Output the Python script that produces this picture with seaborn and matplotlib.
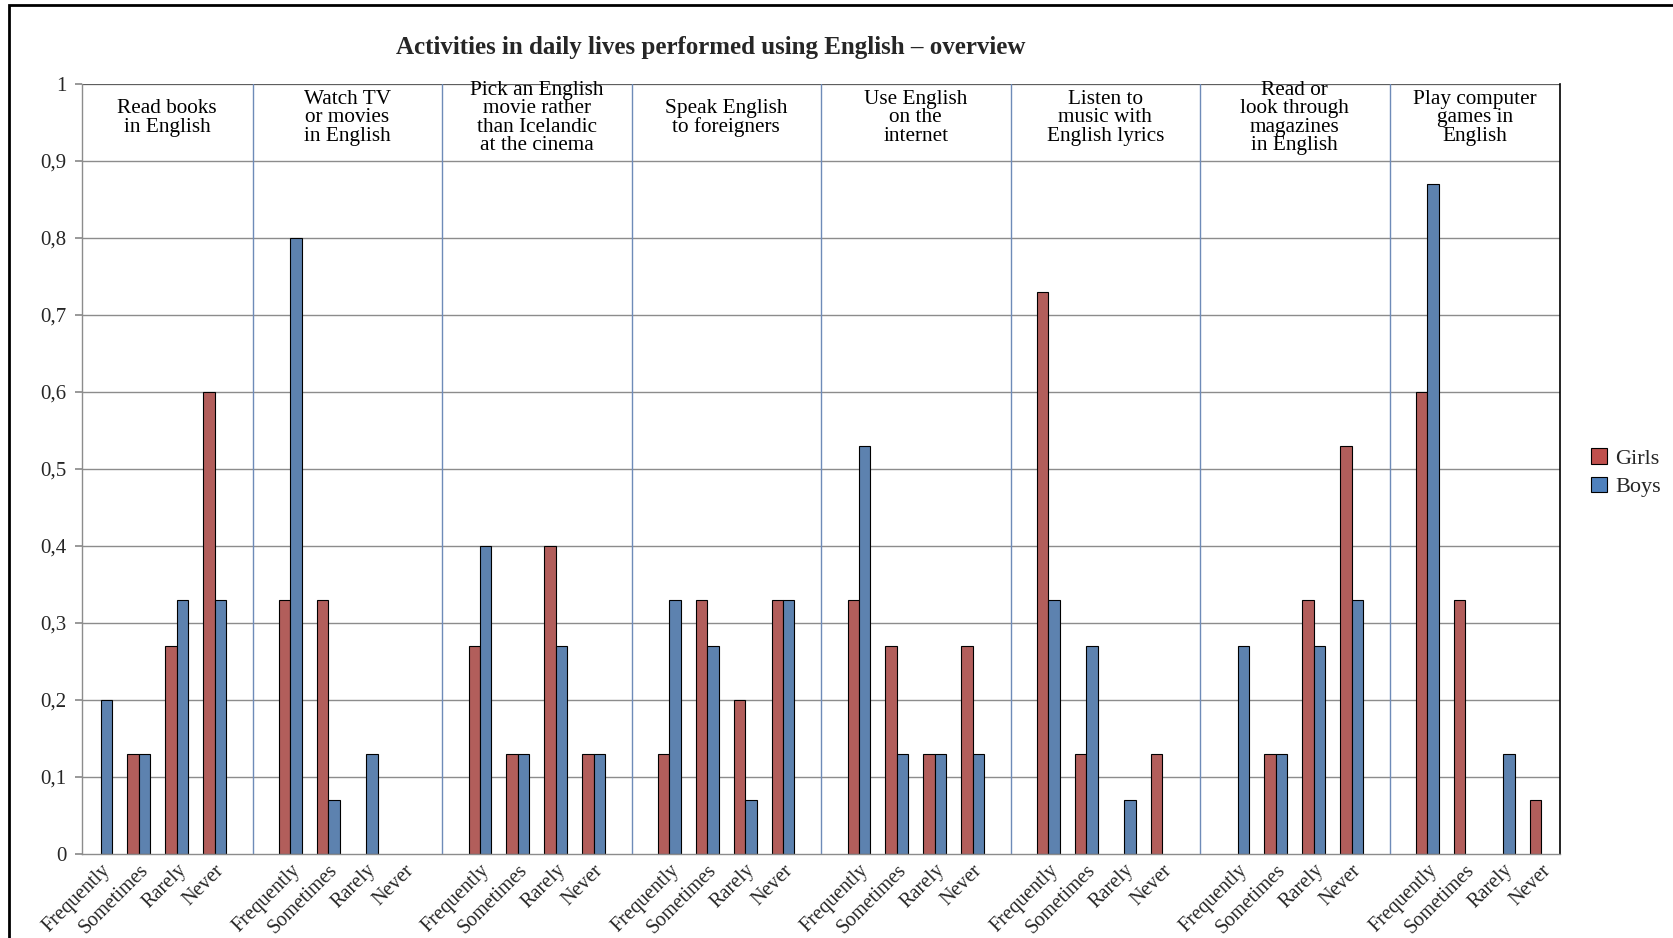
import numpy as np
import pandas as pd
import matplotlib.pyplot as plt
import matplotlib.patches as mpatches
import seaborn as sns

# activity groups (header text) and answer levels
groups = [
	"Read books\nin English",
	"Watch TV\nor movies\nin English",
	"Pick an English\nmovie rather\nthan Icelandic\nat the cinema",
	"Speak English\nto foreigners",
	"Use English\non the\ninternet",
	"Listen to\nmusic with\nEnglish lyrics",
	"Read or\nlook through\nmagazines\nin English",
	"Play computer\ngames in\nEnglish",
]
levels = ["Frequently", "Sometimes", "Rarely", "Never"]

girls = [
	[0.00, 0.13, 0.27, 0.60],
	[0.33, 0.33, 0.00, 0.00],
	[0.27, 0.13, 0.40, 0.13],
	[0.13, 0.33, 0.20, 0.33],
	[0.33, 0.27, 0.13, 0.27],
	[0.73, 0.13, 0.00, 0.13],
	[0.00, 0.13, 0.33, 0.53],
	[0.60, 0.33, 0.00, 0.07],
]
boys = [
	[0.20, 0.13, 0.33, 0.33],
	[0.80, 0.07, 0.13, 0.00],
	[0.40, 0.13, 0.27, 0.13],
	[0.33, 0.27, 0.07, 0.33],
	[0.53, 0.13, 0.13, 0.13],
	[0.33, 0.27, 0.07, 0.00],
	[0.27, 0.13, 0.27, 0.33],
	[0.87, 0.00, 0.13, 0.00],
]
series = ["Girls", "Boys"]
colors = {"Girls": "#C0504D", "Boys": "#4F81BD"}

# build category slots: 4 levels per group plus an empty separator slot
slots, slot_labels = [], []
for g in range(len(groups)):
	for lv in levels:
		slots.append(f"{g}_{lv}")
		slot_labels.append(lv)
	if g < len(groups) - 1:
		slots.append(f"{g}_sep")
		slot_labels.append("")

rows = []
for g in range(len(groups)):
	for k, lv in enumerate(levels):
		rows.append({"slot": f"{g}_{lv}", "series": "Girls", "value": girls[g][k]})
		rows.append({"slot": f"{g}_{lv}", "series": "Boys", "value": boys[g][k]})
df = pd.DataFrame(rows)
df_plot = df[df["value"] > 0]

sns.set_theme(style="white")
plt.rcParams["font.family"] = ["Liberation Serif", "DejaVu Serif"]

fig = plt.figure(figsize=(16.73, 9.38), dpi=100)
ax = fig.add_axes([0.049, 0.0896, 0.8835, 0.8208])

sns.barplot(
	data=df_plot, x="slot", y="value", hue="series",
	order=slots, hue_order=series, palette=colors,
	width=0.6, dodge=True, edgecolor="black", linewidth=0.8,
	legend=False, ax=ax,
)

n = len(slots)
ax.set_xlim(-0.5, n - 0.5)
ax.set_ylim(0, 1)
ax.set_xlabel("")
ax.set_ylabel("")

# gridlines
yt = np.round(np.arange(0, 1.01, 0.1), 1)
for y in yt[1:]:
	ax.axhline(y, color="#8C8C8C", lw=1, zorder=0.5)
ax.axhline(1, color="#555555", lw=1.2, zorder=0.5)

# group separators and headers
sep_pos = [i for i, s in enumerate(slots) if s.endswith("_sep")]
for x in sep_pos:
	ax.axvline(x, color="#6E8BB8", lw=1, zorder=0.6)
bounds = [-0.5] + sep_pos + [n - 0.5]
for g, txt in enumerate(groups):
	cx = (bounds[g] + bounds[g + 1]) / 2
	ax.text(cx, 0.956, txt, ha="center", va="center", fontsize=15.3,
		linespacing=0.97, color="black")

ax.set_yticks(yt)
ax.set_yticklabels(["0" if v == 0 else ("1" if v == 1 else f"{v:.1f}".replace(".", ",")) for v in yt],
	fontsize=15)
ax.set_xticks(range(n))
ax.set_xticklabels(slot_labels, rotation=45, ha="right", rotation_mode="anchor", fontsize=14.5)
ax.set_xticks(np.arange(-0.5, n, 1), minor=True)
ax.tick_params(axis="x", which="major", length=0, pad=5)
ax.tick_params(axis="x", which="minor", length=5, color="#8C8C8C", direction="out")
ax.tick_params(axis="y", length=5, color="#8C8C8C", direction="out", left=True, pad=6)

for side in ["left", "bottom"]:
	ax.spines[side].set_color("#8C8C8C")
	ax.spines[side].set_linewidth(1)
ax.spines["top"].set_visible(False)
ax.spines["right"].set_color("black")
ax.spines["right"].set_linewidth(1.2)

fig.text(0.425, 0.949, "Activities in daily lives performed using English \u2013 overview",
	ha="center", va="center", fontsize=18, fontweight="bold")

handles = [mpatches.Patch(facecolor=colors[s], edgecolor="black", lw=0.8, label=s) for s in series]
fig.legend(handles=handles, loc="center left", bbox_to_anchor=(0.939, 0.496),
	frameon=False, fontsize=16, handlelength=0.7, handleheight=0.7,
	handletextpad=0.4, labelspacing=0.35)

# outer chart frame (right and bottom edges fall outside the image)
fig.patches.append(mpatches.Rectangle((0.0055, -0.05), 1.1, 1.0447, transform=fig.transFigure,
	fill=False, edgecolor="black", lw=2, clip_on=False))

fig.savefig("out.png", dpi=100)
